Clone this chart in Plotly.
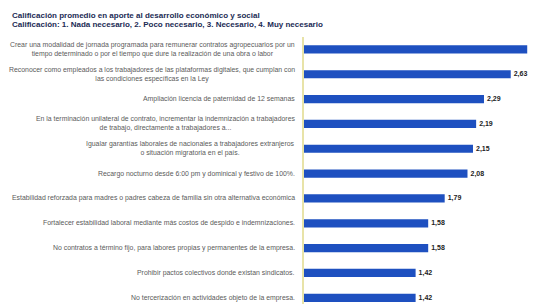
import plotly.graph_objects as go

title_line1 = "Calificación promedio en aporte al desarrollo económico y social"
title_line2 = "Calificación: 1. Nada necesario, 2. Poco necesario, 3. Necesario, 4. Muy necesario"

categories = [
    "Crear una modalidad de jornada programada para remunerar contratos agropecuarios por un<br>tiempo determinado o por el tiempo que dure la realización de una obra o labor",
    "Reconocer como empleados a los trabajadores de las plataformas digitales, que cumplan con<br>las condiciones específicas en la Ley",
    "Ampliación licencia de paternidad de 12 semanas",
    "En la terminación unilateral de contrato, incrementar la indemnización a trabajadores<br>de trabajo, directamente a trabajadores a...",
    "Igualar garantías laborales de nacionales a trabajadores extranjeros<br>o situación migratoria en el país.",
    "Recargo nocturno desde 6:00 pm y dominical y festivo de 100%.",
    "Estabilidad reforzada para madres o padres cabeza de familia sin otra alternativa económica",
    "Fortalecer estabilidad laboral mediante más costos de despido e indemnizaciones.",
    "No contratos a término fijo, para labores propias y permanentes de la empresa.",
    "Prohibir pactos colectivos donde existan sindicatos.",
    "No tercerización en actividades objeto de la empresa.",
]
values = [2.84, 2.63, 2.29, 2.19, 2.15, 2.08, 1.79, 1.58, 1.58, 1.42, 1.42]

idx = list(range(len(categories)))

# page body has an 8px default margin; size the figure so it ends at the window edge
W, H = 529, 296
left, top = 296, 29
plot_w, plot_h = W - left, H - top

fig = go.Figure()
fig.add_trace(go.Bar(
    x=values,
    y=idx,
    orientation="h",
    width=0.33,
    marker=dict(color="#1e50c0", line=dict(width=0)),
    texttemplate="%{x:.2f}",
    textposition="outside",
    cliponaxis=False,
    textfont=dict(family="Liberation Sans Narrow, Liberation Sans, Arial, sans-serif",
                  size=7, color="#222222", weight="bold"),
    hoverinfo="skip",
))

annotations = []
for i, c in enumerate(categories):
    annotations.append(dict(
        x=0, xref="paper", xanchor="right", xshift=-7,
        y=i, yref="y", yanchor="middle",
        text=c, showarrow=False, align="center",
        font=dict(family="Liberation Sans, Arial, sans-serif", size=6.9, color="#5a5a5a"),
    ))

title_font = dict(family="Liberation Sans, Arial, sans-serif",
                  size=8, color="#1c2b55", weight="bold")
for txt, ypix in [(title_line1, 7), (title_line2, 16)]:
    annotations.append(dict(
        x=-(left - 2) / plot_w, xref="paper", xanchor="left",
        y=(H - ypix) / plot_h, yref="paper", yanchor="middle",
        text=txt, showarrow=False, font=title_font,
    ))

fig.update_layout(
    width=W, height=H,
    margin=dict(l=left, r=0, t=top, b=0),
    paper_bgcolor="white", plot_bgcolor="white",
    separators=",.",
    showlegend=False,
    annotations=annotations,
    xaxis=dict(range=[0, plot_w / 78.6], showgrid=False, zeroline=False,
               showticklabels=False, ticks="", showline=False),
    yaxis=dict(range=[10.25, -0.5], showgrid=False, zeroline=False,
               showticklabels=False, ticks="", showline=True,
               linecolor="#e8e3a8", linewidth=1.5),
)

fig.write_html("out.html")
